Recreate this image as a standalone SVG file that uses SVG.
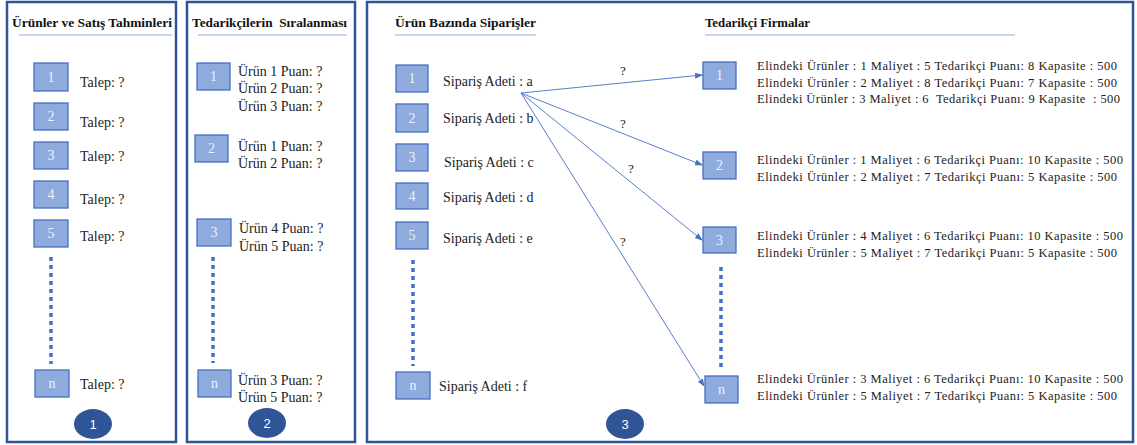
<svg xmlns="http://www.w3.org/2000/svg" width="1137" height="445" viewBox="0 0 1137 445">
<style>
.panel{fill:#fff;stroke:#2F5597;stroke-width:2.5}
.title{font-family:'Liberation Serif','Times New Roman',serif;font-weight:bold;font-size:13.5px;fill:#111;white-space:pre}
.ul{stroke:#8FAADC;stroke-width:1}
.box{fill:#8FAADC;stroke:#4472C4;stroke-width:1.3}
.num{font-family:'Liberation Serif','Times New Roman',serif;font-size:14px;fill:#EEF2FA;text-anchor:middle}
.t{font-family:'Liberation Serif','Times New Roman',serif;font-size:14px;fill:#222;white-space:pre}
.s{font-family:'Liberation Serif','Times New Roman',serif;font-size:12.5px;fill:#222;white-space:pre}
.dots{stroke:#4472C4;stroke-width:3.5;stroke-dasharray:4 4;fill:none}
.badge{fill:#2F5597}
.bt{font-family:'Liberation Sans',Arial,sans-serif;font-size:13px;fill:#fff;text-anchor:middle}
.arr{stroke:#4472C4;stroke-width:0.9;fill:none;marker-end:url(#ah)}
.q{font-family:'Liberation Serif','Times New Roman',serif;font-size:13px;fill:#222;text-anchor:middle}
</style>
<defs>
<marker id="ah" markerWidth="8" markerHeight="6" refX="7" refY="3" orient="auto" markerUnits="userSpaceOnUse">
<path d="M0,0 L8,3 L0,6 Z" fill="#4472C4"/>
</marker>
</defs>
<rect width="1137" height="445" fill="#fff"/>

<!-- Panel 1 -->
<g id="panel1">
<rect class="panel" x="7" y="2" width="169" height="440"/>
<text class="title" x="12" y="27" textLength="160" lengthAdjust="spacingAndGlyphs">Ürünler ve Satış Tahminleri</text>
<line class="ul" x1="19" y1="35" x2="172" y2="35"/>
</g>
<g id="p1-item1"><rect class="box" x="34" y="63" width="34" height="28"/><text class="num" x="51" y="82">1</text><text class="t" x="80" y="87">Talep: ?</text></g>
<g id="p1-item2"><rect class="box" x="34" y="103" width="34" height="27"/><text class="num" x="51" y="121">2</text><text class="t" x="80" y="127">Talep: ?</text></g>
<g id="p1-item3"><rect class="box" x="34" y="142" width="34" height="27"/><text class="num" x="51" y="160">3</text><text class="t" x="80" y="161">Talep: ?</text></g>
<g id="p1-item4"><rect class="box" x="34" y="181" width="34" height="27"/><text class="num" x="51" y="199">4</text><text class="t" x="80" y="204">Talep: ?</text></g>
<g id="p1-item5"><rect class="box" x="34" y="220" width="34" height="27"/><text class="num" x="51" y="238">5</text><text class="t" x="80" y="241">Talep: ?</text></g>
<g id="p1-dots"><line class="dots" x1="51" y1="257" x2="51" y2="364"/></g>
<g id="p1-itemn"><rect class="box" x="35" y="370" width="34" height="27"/><text class="num" x="52" y="388">n</text><text class="t" x="80" y="389">Talep: ?</text></g>
<g id="badge1"><ellipse class="badge" cx="93" cy="424" rx="19" ry="15"/><text class="bt" x="93" y="429">1</text></g>

<!-- Panel 2 -->
<g id="panel2">
<rect class="panel" x="187" y="2" width="168" height="440"/>
<text class="title" x="192" y="27" textLength="155" lengthAdjust="spacingAndGlyphs">Tedarikçilerin  Sıralanması</text>
<line class="ul" x1="198" y1="35" x2="347" y2="35"/>
</g>
<g id="p2-item1"><rect class="box" x="197" y="63" width="33" height="27"/><text class="num" x="213.5" y="81">1</text>
<text class="t" x="238" y="76">Ürün 1 Puan: ?</text><text class="t" x="238" y="93">Ürün 2 Puan: ?</text><text class="t" x="238" y="111">Ürün 3 Puan: ?</text></g>
<g id="p2-item2"><rect class="box" x="195" y="135" width="33" height="27"/><text class="num" x="211.5" y="153">2</text>
<text class="t" x="238" y="151">Ürün 1 Puan: ?</text><text class="t" x="238" y="168">Ürün 2 Puan: ?</text></g>
<g id="p2-item3"><rect class="box" x="197" y="219" width="34" height="27"/><text class="num" x="214" y="237">3</text>
<text class="t" x="239" y="233">Ürün 4 Puan: ?</text><text class="t" x="239" y="251">Ürün 5 Puan: ?</text></g>
<g id="p2-dots"><line class="dots" x1="213" y1="257" x2="213" y2="363"/></g>
<g id="p2-itemn"><rect class="box" x="198" y="370" width="33" height="27"/><text class="num" x="214.5" y="388">n</text>
<text class="t" x="238" y="385">Ürün 3 Puan: ?</text><text class="t" x="238" y="402">Ürün 5 Puan: ?</text></g>
<g id="badge2"><ellipse class="badge" cx="267" cy="423" rx="19" ry="15"/><text class="bt" x="267" y="428">2</text></g>

<!-- Panel 3 -->
<g id="panel3">
<rect class="panel" x="367" y="2" width="766" height="440"/>
<text class="title" x="395" y="27" textLength="141" lengthAdjust="spacingAndGlyphs">Ürün Bazında Siparişler</text>
<line class="ul" x1="395" y1="35" x2="536" y2="35"/>
<text class="title" x="705" y="27" textLength="105" lengthAdjust="spacingAndGlyphs">Tedarikçi Firmalar</text>
<line class="ul" x1="705" y1="35" x2="1015" y2="35"/>
</g>
<g id="p3-order1"><rect class="box" x="396" y="65" width="32" height="27"/><text class="num" x="412" y="83">1</text><text class="t" x="443" y="86">Sipariş Adeti : a</text></g>
<g id="p3-order2"><rect class="box" x="396" y="104" width="32" height="28"/><text class="num" x="412" y="123">2</text><text class="t" x="443" y="123">Sipariş Adeti : b</text></g>
<g id="p3-order3"><rect class="box" x="396" y="144" width="32" height="27"/><text class="num" x="412" y="162">3</text><text class="t" x="444" y="167">Sipariş Adeti : c</text></g>
<g id="p3-order4"><rect class="box" x="396" y="183" width="32" height="26"/><text class="num" x="412" y="201">4</text><text class="t" x="443" y="202">Sipariş Adeti : d</text></g>
<g id="p3-order5"><rect class="box" x="396" y="222" width="32" height="27"/><text class="num" x="412" y="240">5</text><text class="t" x="443" y="243">Sipariş Adeti : e</text></g>
<g id="p3-dots-left"><line class="dots" x1="413" y1="260" x2="413" y2="366"/></g>
<g id="p3-ordern"><rect class="box" x="396" y="372" width="34" height="27"/><text class="num" x="413" y="390">n</text><text class="t" x="439" y="391">Sipariş Adeti : f</text></g>

<g id="sup1"><rect class="box" x="703" y="62" width="33" height="27"/><text class="num" x="719.5" y="80">1</text>
<text class="s" x="757" y="70" textLength="360" lengthAdjust="spacing">Elindeki Ürünler : 1 Maliyet : 5 Tedarikçi Puanı: 8 Kapasite : 500</text>
<text class="s" x="757" y="87" textLength="360" lengthAdjust="spacing">Elindeki Ürünler : 2 Maliyet : 8 Tedarikçi Puanı: 7 Kapasite : 500</text>
<text class="s" x="757" y="103" textLength="363" lengthAdjust="spacing">Elindeki Ürünler : 3 Maliyet : 6  Tedarikçi Puanı: 9 Kapasite  : 500</text></g>
<g id="sup2"><rect class="box" x="703" y="152" width="33" height="27"/><text class="num" x="719.5" y="170">2</text>
<text class="s" x="757" y="164" textLength="366" lengthAdjust="spacing">Elindeki Ürünler : 1 Maliyet : 6 Tedarikçi Puanı: 10 Kapasite : 500</text>
<text class="s" x="757" y="181" textLength="360" lengthAdjust="spacing">Elindeki Ürünler : 2 Maliyet : 7 Tedarikçi Puanı: 5 Kapasite : 500</text></g>
<g id="sup3"><rect class="box" x="703" y="227" width="33" height="26"/><text class="num" x="719.5" y="245">3</text>
<text class="s" x="757" y="240" textLength="366" lengthAdjust="spacing">Elindeki Ürünler : 4 Maliyet : 6 Tedarikçi Puanı: 10 Kapasite : 500</text>
<text class="s" x="757" y="257" textLength="360" lengthAdjust="spacing">Elindeki Ürünler : 5 Maliyet : 7 Tedarikçi Puanı: 5 Kapasite : 500</text></g>
<g id="p3-dots-right"><line class="dots" x1="721" y1="267" x2="721" y2="371"/></g>
<g id="supn"><rect class="box" x="705" y="376" width="33" height="27"/><text class="num" x="721.5" y="394">n</text>
<text class="s" x="757" y="383" textLength="366" lengthAdjust="spacing">Elindeki Ürünler : 3 Maliyet : 6 Tedarikçi Puanı: 10 Kapasite : 500</text>
<text class="s" x="757" y="400" textLength="360" lengthAdjust="spacing">Elindeki Ürünler : 5 Maliyet : 7 Tedarikçi Puanı: 5 Kapasite : 500</text></g>
<g id="badge3"><ellipse class="badge" cx="625" cy="424" rx="19" ry="15"/><text class="bt" x="625" y="429">3</text></g>

<g id="connectors">
<line class="arr" x1="521" y1="93" x2="702" y2="75"/>
<line class="arr" x1="521" y1="93" x2="702" y2="165"/>
<line class="arr" x1="521" y1="93" x2="702" y2="240"/>
<line class="arr" x1="521" y1="93" x2="704" y2="386"/>
<text class="q" x="623" y="75">?</text>
<text class="q" x="623" y="128">?</text>
<text class="q" x="631" y="173">?</text>
<text class="q" x="623" y="246">?</text>
</g>
</svg>
